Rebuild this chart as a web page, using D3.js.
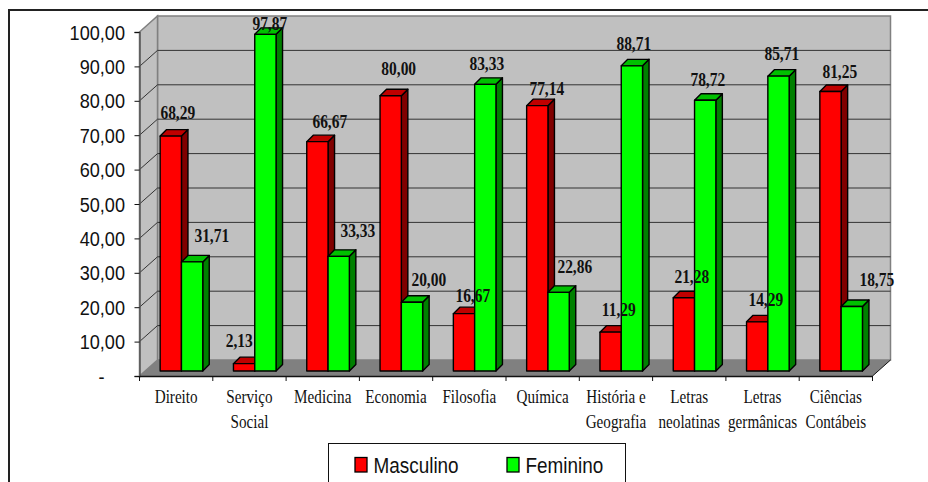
<!DOCTYPE html>
<html>
<head>
<meta charset="utf-8">
<script src="https://cdn.jsdelivr.net/npm/d3@7"></script>
<style>
body{margin:0;background:#fff}
svg{display:block}
</style>
</head>
<body>
<script>
const categories=[['Direito'],['Serviço','Social'],['Medicina'],['Economia'],['Filosofia'],['Química'],['História e','Geografia'],['Letras','neolatinas'],['Letras','germânicas'],['Ciências','Contábeis']]
const masculino=[68.29,2.13,66.67,80.00,16.67,77.14,11.29,21.28,14.29,81.25]
const feminino=[31.71,97.87,33.33,20.00,83.33,22.86,88.71,78.72,85.71,18.75]
const yTicks=[0,10,20,30,40,50,60,70,80,90,100]
// label positions as Excel left them, offset from the top of each bar
const mascLabelDx=[7,-4.8,12.4,8,8.8,9.5,8.2,7.9,8.6,9.3]
const mascLabelDy=[-17.5,-16.7,-13.7,-20.8,-11.7,-10.6,-16.2,-14.8,-15.8,-13.5]
const femLabelDx=[19.7,4.4,19.1,16.8,1.5,16.2,1.9,2.6,3.3,25]
const femLabelDy=[-19.9,-4.3,-19.3,-16.2,-14.3,-19.4,-15.8,-14.2,-16.2,-20.5]

const width=928,height=482
const red='#ff0000',redSide='#800000',redTop='#c00000'
const green='#00ff00',greenSide='#008000',greenTop='#00c000'

const fmt=v=>d3.format('.2f')(v).replace('.',',')
// the original text is squeezed sideways, so every label gets its own x scale
const squeeze=(x,y,k)=>`translate(${x},${y}) scale(${k},1)`

const svg=d3.select('body').append('svg')
	.attr('width',width)
	.attr('height',height)

// outer frame
svg.append('rect')
	.attr('x',9).attr('y',10)
	.attr('width',930).attr('height',490)
	.attr('fill','#fff')
	.attr('stroke','#222')
	.attr('stroke-width',2)

const x0=139.5,x1=872.5,y0=376,y1=32   // front plane of the axes
const wallDx=18,wallDy=-16             // depth of the box
const barDx=5.3,barDy=-5               // bars stand inside the box
const sideDx=6.5,sideDy=-6.5

const xScale=d3.scaleBand()
	.domain(d3.range(categories.length))
	.range([x0,x1])
const yScale=d3.scaleLinear()
	.domain([0,100])
	.range([y0,y1])

const poly=pts=>pts.map(p=>p.join(',')).join(' ')

// back wall, left wall, floor
svg.append('polygon')
	.attr('points',poly([[x0+wallDx,y1+wallDy],[x1+wallDx,y1+wallDy],[x1+wallDx,y0+wallDy],[x0+wallDx,y0+wallDy]]))
	.attr('fill','#c0c0c0')
	.attr('stroke','#808080')
	.attr('stroke-width',1.5)
svg.append('polygon')
	.attr('points',poly([[x0,y1],[x0+wallDx,y1+wallDy],[x0+wallDx,y0+wallDy],[x0,y0]]))
	.attr('fill','#c0c0c0')
	.attr('stroke','#808080')
	.attr('stroke-width',1.5)
svg.append('polygon')
	.attr('points',poly([[x0,y0],[x0+wallDx,y0+wallDy],[x1+wallDx,y0+wallDy],[x1,y0]]))
	.attr('fill','#808080')

// gridlines wrap from the left wall onto the back wall
svg.append('g').selectAll('polyline')
	.data(yTicks.slice(1,-1))
	.join('polyline')
	.attr('points',d=>poly([[x0,yScale(d)],[x0+wallDx,yScale(d)+wallDy],[x1+wallDx,yScale(d)+wallDy]]))
	.attr('fill','none')
	.attr('stroke','#333')
	.attr('stroke-width',1)
svg.append('polyline')
	.attr('points',poly([[x1,y0],[x1+wallDx,y0+wallDy]]))
	.attr('fill','none')
	.attr('stroke','#111')

// axes
const yAxis=d3.axisLeft(yScale)
	.tickValues(yTicks)
	.tickSize(5)
	.tickFormat(d=>d===0?'-':fmt(d))
svg.append('g')
	.attr('transform',`translate(${x0},0)`)
	.call(yAxis)
	.call(g=>g.selectAll('text')
		.attr('font-family','"Liberation Sans"')
		.attr('font-size',19.5)
		.attr('fill','#111')
		.attr('x',null)
		.attr('dy',null)
		.attr('transform',d=>squeeze(d===0?-35:-14.5,7,.93)))
	.call(g=>g.selectAll('line,path').attr('stroke','#111'))
	.call(g=>g.select('.domain').attr('stroke-width',1.5).attr('stroke','#555'))

const xAxis=d3.axisBottom(xScale)
	.tickSize(0)
	.tickFormat('')
const xg=svg.append('g')
	.attr('transform',`translate(0,${y0})`)
	.call(xAxis)
	.call(g=>g.select('.domain').attr('stroke','#111').attr('stroke-width',1.5))

xg.selectAll('.edge')
	.data(d3.range(categories.length+1))
	.join('line')
	.attr('class','edge')
	.attr('x1',d=>x0+d*xScale.step())
	.attr('x2',d=>x0+d*xScale.step())
	.attr('y1',0)
	.attr('y2',5)
	.attr('stroke','#111')

// category labels
const catLabels=svg.append('g')
	.attr('font-family','"Liberation Serif"')
	.attr('font-size',18.5)
	.attr('fill','#111')
	.attr('text-anchor','middle')
	.selectAll('text')
	.data(categories)
	.join('text')
	.attr('transform',(d,i)=>squeeze(xScale(i)+xScale.bandwidth()/2,403,.82))
catLabels.selectAll('tspan')
	.data(d=>d)
	.join('tspan')
	.attr('x',0)
	.attr('dy',(d,i)=>i?25:0)
	.text(d=>d)

// bars, red first, each with front, top and side faces
const barW=21.3
const series=[
	{values:masculino,front:red,side:redSide,top:redTop,shift:0,dx:mascLabelDx,dy:mascLabelDy},
	{values:feminino,front:green,side:greenSide,top:greenTop,shift:barW,dx:femLabelDx,dy:femLabelDy}
]
const bars=[]
categories.forEach((c,i)=>{
	series.forEach(s=>bars.push({i,s,v:s.values[i]}))
})
const barX=d=>xScale(d.i)+(xScale.bandwidth()-2*barW)/2+barDx+d.s.shift
const barY=d=>yScale(d.v)+barDy

const barG=svg.append('g')
	.attr('stroke','#000')
	.attr('stroke-width',1.4)
	.attr('stroke-linejoin','round')
	.selectAll('g')
	.data(bars)
	.join('g')
barG.append('polygon')
	.attr('fill',d=>d.s.side)
	.attr('points',d=>{
		const x=barX(d)+barW,t=barY(d),b=yScale(0)+barDy
		return poly([[x,t],[x+sideDx,t+sideDy],[x+sideDx,b+sideDy],[x,b]])
	})
barG.append('polygon')
	.attr('fill',d=>d.s.top)
	.attr('points',d=>{
		const x=barX(d),t=barY(d)
		return poly([[x,t],[x+sideDx,t+sideDy],[x+barW+sideDx,t+sideDy],[x+barW,t]])
	})
barG.append('rect')
	.attr('fill',d=>d.s.front)
	.attr('x',barX)
	.attr('y',barY)
	.attr('width',barW)
	.attr('height',d=>yScale(0)-yScale(d.v))

// data labels
svg.append('g')
	.attr('font-family','"Liberation Serif"')
	.attr('font-size',18)
	.attr('font-weight','bold')
	.attr('fill','#111')
	.attr('text-anchor','middle')
	.selectAll('text')
	.data(bars)
	.join('text')
	.attr('transform',d=>squeeze(barX(d)+barW/2+d.s.dx[d.i],barY(d)+d.s.dy[d.i],.86))
	.text(d=>fmt(d.v))

// legend
const legend=svg.append('g')
legend.append('rect')
	.attr('x',328.5).attr('y',443.5)
	.attr('width',297).attr('height',50)
	.attr('fill','#fff')
	.attr('stroke','#111')
const legendItems=[['Masculino',red,355],['Feminino',green,507]]
legendItems.forEach(([name,color,lx])=>{
	legend.append('rect')
		.attr('x',lx).attr('y',457.5)
		.attr('width',12).attr('height',14.5)
		.attr('fill',color)
		.attr('stroke','#000')
		.attr('stroke-width',1.3)
	legend.append('text')
		.attr('transform',squeeze(lx+18.5,472.5,.86))
		.attr('font-family','"Liberation Sans"')
		.attr('font-size',22)
		.attr('fill','#111')
		.text(name)
})
</script>
</body>
</html>
